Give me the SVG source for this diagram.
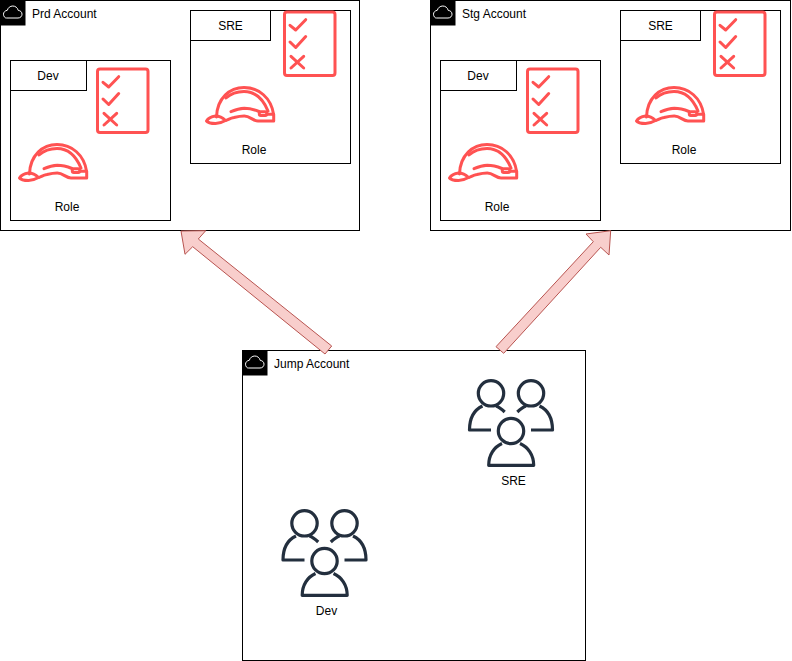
<svg xmlns="http://www.w3.org/2000/svg" xmlns:xlink="http://www.w3.org/1999/xlink" width="792" height="661" viewBox="0 0 792 661">
<style>
text{font-family:"Liberation Sans",Arial,sans-serif;font-size:12px;fill:#000}
.c{text-anchor:middle}
.box{fill:#fff;stroke:#000;stroke-width:1}
.tile{fill:#000}
.cloud{fill:none;stroke:#fff;stroke-width:1}
.red{fill:none;stroke:#ff5252;stroke-width:3;stroke-linecap:round;stroke-linejoin:round}
.navy{fill:none;stroke:#232f3e;stroke-width:3.2;stroke-linecap:butt;stroke-linejoin:round}
.arrow{fill:#f8cecc;stroke:#b85450;stroke-width:1}
</style>
<defs>
<g id="cloud"><path class="cloud" d="M6.500 18h11.500c2.500 0 4-1.800 4-3.800c0-2.200-1.700-3.700-3.700-3.700c-.7-2.800-3-4.500-5.500-4.500c-2.700 0-4.800 1.800-5.500 4.300c-2.300.3-3.800 2-3.800 3.900c0 2.200 1.500 3.800 2.500 3.800z"/></g>
<g id="checklist" class="red">
<rect x="0" y="0" width="50.500" height="63.500" rx="2.500"/>
<path d="M5.500 13.300L11.200 18L21.200 7.700M5.500 30L11.200 35.500L21.200 24.500M6.500 44.300L19.200 56M19.200 44.300L6.500 56"/>
</g>
<g id="hat" class="red">
<path d="M11.500 33C12 14 25 3.500 39 3.500C54 3.500 66 14 68.500 30"/>
<path d="M21 14C26 9.500 32 7.500 39 7.500C50 7.500 58 15 63 27"/>
<path d="M1.500 37C3 34.500 7 32.500 10.500 32C15 32 18 34 20.500 36.500C17 38.500 14 39.500 10.500 39.500C7 39.500 3 39 1.500 37z"/>
<path d="M20.500 36.500C23 36 25 34 29 33.500C33 32.500 36 32 39.300 32C45 32 48 37 53 37H68.700V30.300H62"/>
<path d="M26 27.700C30 26 34 24.500 39.300 24.300C45 24.300 49 25.500 54 27.500"/>
<rect x="54.300" y="27.700" width="7.400" height="3.800" rx="1.500"/>
</g>
<g id="users" class="navy">
<circle cx="23" cy="12.300" r="12.700"/>
<circle cx="63" cy="12.300" r="12.700"/>
<circle cx="43" cy="50" r="12.700"/>
<path d="M23 49H1.500C1.500 38 6 29 14.500 25"/>
<path d="M28 25C31 26 34 28.500 36.700 31"/>
<path d="M63 49H84.500C84.500 38 80 29 71.500 25"/>
<path d="M58 25C55 26 52 28.500 49.300 31"/>
<path d="M34 62.500C26 66 20.700 74 20.700 84.300H65.700C65.700 74 60 66 52 62.500"/>
</g>
</defs>
<g id="prd-account">
<rect class="box" x="0.500" y="0.500" width="359" height="230"/>
<rect class="tile" x="0" y="0" width="25.500" height="25.500"/>
<use href="#cloud"/>
<text x="32" y="18">Prd Account</text>
</g>
<g id="prd-dev">
<rect class="box" x="10.500" y="60.500" width="160" height="160"/>
<rect class="box" x="10.500" y="60.500" width="76" height="30"/>
<text class="c" x="48" y="80">Dev</text>
<use href="#checklist" x="97.500" y="69"/>
<use href="#hat" x="18" y="141"/>
<text class="c" x="67" y="211">Role</text>
</g>
<g id="prd-sre">
<rect class="box" x="190.500" y="10.500" width="160" height="153"/>
<rect class="box" x="190.500" y="10.500" width="80" height="30"/>
<text class="c" x="230.500" y="30">SRE</text>
<use href="#checklist" x="284.500" y="12"/>
<use href="#hat" x="205" y="84"/>
<text class="c" x="254" y="154">Role</text>
</g>
<g id="stg-account">
<rect class="box" x="430.500" y="0.500" width="360" height="230"/>
<rect class="tile" x="430" y="0" width="25.500" height="25.500"/>
<use href="#cloud" x="430"/>
<text x="462" y="18">Stg Account</text>
</g>
<g id="stg-dev">
<rect class="box" x="440.500" y="60.500" width="160" height="160"/>
<rect class="box" x="440.500" y="60.500" width="76" height="30"/>
<text class="c" x="478" y="80">Dev</text>
<use href="#checklist" x="527.500" y="69"/>
<use href="#hat" x="448" y="141"/>
<text class="c" x="497" y="211">Role</text>
</g>
<g id="stg-sre">
<rect class="box" x="620.500" y="10.500" width="160" height="153"/>
<rect class="box" x="620.500" y="10.500" width="80" height="30"/>
<text class="c" x="660.500" y="30">SRE</text>
<use href="#checklist" x="714.500" y="12"/>
<use href="#hat" x="635" y="84"/>
<text class="c" x="684" y="154">Role</text>
</g>
<g id="jump-account">
<rect class="box" x="242.500" y="350.500" width="343" height="310"/>
<rect class="tile" x="242" y="350" width="25.500" height="25.500"/>
<use href="#cloud" x="242" y="350"/>
<text x="274" y="368">Jump Account</text>
</g>
<g id="jump-sre">
<use href="#users" x="468" y="381"/>
<text class="c" x="513.500" y="485">SRE</text>
</g>
<g id="jump-dev">
<use href="#users" x="281.500" y="511"/>
<text class="c" x="326.500" y="615">Dev</text>
</g>
<g id="connectors">
<path class="arrow" d="M331.700 346L198.300 239L205.700 230.700L181 231L185 254.300L192.700 246.700L325 354Z"/>
<path class="arrow" d="M496 346.700L593.300 241.700L586 234L610.700 230.700L609 255L600.700 247.300L503.700 353.300Z"/>
</g>
</svg>
